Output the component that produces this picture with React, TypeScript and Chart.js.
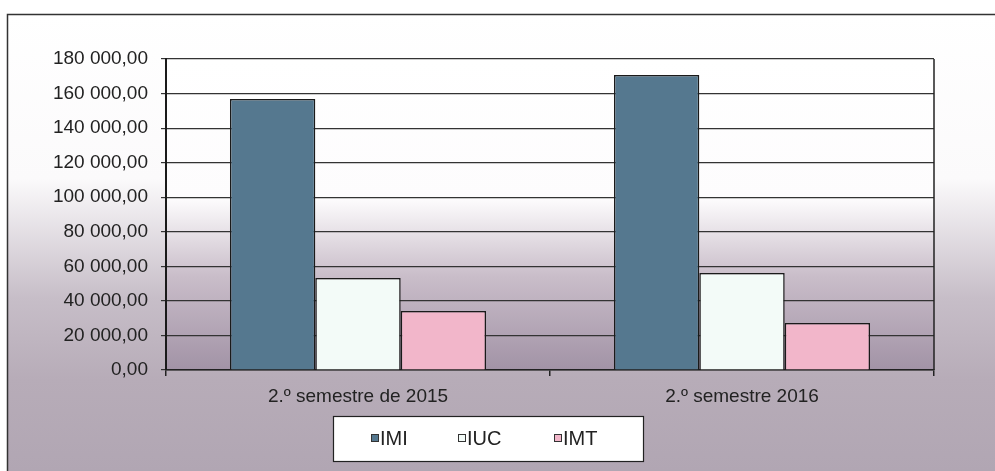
import React, { useEffect, useRef } from "react";
import { Chart, registerables } from "chart.js";

Chart.register(...registerables);

const categories = ["2.º semestre de 2015", "2.º semestre 2016"];
const seriesNames = ["IMI", "IUC", "IMT"];
const imiValues = [156800, 170800];
const iucValues = [53200, 56100];
const imtValues = [34100, 27200];
const seriesColors = ["#55788f", "#f3fbf8", "#f2b6ca"];
const yMax = 180000;
const yStep = 20000;

const FONT = "Arial, 'Liberation Sans', sans-serif";

function fmt(v: number): string {
  const s = Math.round(v).toString().replace(/\B(?=(\d{3})+(?!\d))/g, " ");
  return s + ",00";
}

const bgPlugin = {
  id: "bgPlugin",
  beforeDraw(chart: any) {
    const { ctx, width, height, chartArea } = chart;
    ctx.save();
    ctx.fillStyle = "#ffffff";
    ctx.fillRect(0, 0, width, height);
    const g = ctx.createLinearGradient(0, 14, 0, height);
    g.addColorStop(0, "#ffffff");
    g.addColorStop(0.36, "#fbfafb");
    g.addColorStop(0.62, "#c7bec8");
    g.addColorStop(0.8, "#b7acb8");
    g.addColorStop(1, "#b1a6b3");
    ctx.fillStyle = g;
    ctx.fillRect(7, 14, width - 7, height - 14);
    ctx.strokeStyle = "#333333";
    ctx.lineWidth = 1.5;
    ctx.beginPath();
    ctx.moveTo(7.5, height);
    ctx.lineTo(7.5, 14.5);
    ctx.lineTo(width, 14.5);
    ctx.stroke();
    const { left, top, right, bottom } = chartArea;
    const pg = ctx.createLinearGradient(0, top, 0, bottom);
    pg.addColorStop(0, "#ffffff");
    pg.addColorStop(0.45, "#fdfcfd");
    pg.addColorStop(0.7, "#c9bdc9");
    pg.addColorStop(1, "#a293a6");
    ctx.fillStyle = pg;
    ctx.fillRect(left, top, right - left, bottom - top);
    ctx.restore();
  },
  afterDraw(chart: any) {
    const { ctx, chartArea } = chart;
    const { top, right, bottom } = chartArea;
    ctx.save();
    ctx.strokeStyle = "#222222";
    ctx.lineWidth = 1.5;
    ctx.beginPath();
    ctx.moveTo(right, top);
    ctx.lineTo(right, bottom);
    ctx.stroke();
    const lx = 333, ly = 416, lw = 310, lh = 45;
    ctx.fillStyle = "#ffffff";
    ctx.fillRect(lx, ly, lw, lh);
    ctx.strokeStyle = "#222222";
    ctx.lineWidth = 1.2;
    ctx.strokeRect(lx + 0.5, ly + 0.5, lw, lh);
    const itemX = [371, 458, 554];
    const cy = 438;
    ctx.font = "20px " + FONT;
    ctx.textBaseline = "middle";
    ctx.textAlign = "left";
    chart.data.datasets.forEach((ds: any, i: number) => {
      const x = itemX[i];
      ctx.fillStyle = ds.backgroundColor;
      ctx.fillRect(x, cy - 4, 8, 8);
      ctx.strokeStyle = "#333333";
      ctx.lineWidth = 1;
      ctx.strokeRect(x + 0.5, cy - 3.5, 7, 7);
      ctx.fillStyle = "#222222";
      ctx.fillText(ds.label, x + 9, cy + 1);
    });
    ctx.restore();
  },
};

export default function App() {
  const ref = useRef<HTMLCanvasElement | null>(null);
  useEffect(() => {
    if (!ref.current) return;
    const seriesValues = [imiValues, iucValues, imtValues];
    const chart = new Chart(ref.current, {
      type: "bar",
      data: {
        labels: categories,
        datasets: seriesNames.map((name, i) => ({
          label: name,
          data: seriesValues[i],
          backgroundColor: seriesColors[i],
          borderColor: "#1a1a1a",
          borderWidth: 1.5,
          categoryPercentage: 0.667,
          barPercentage: 1.0,
        })),
      },
      options: {
        animation: false,
        responsive: false,
        maintainAspectRatio: false,
        layout: { padding: { left: 0, top: 59, right: 61, bottom: 0 } },
        plugins: {
          legend: { display: false },
          tooltip: { enabled: false },
        },
        scales: {
          x: {
            afterFit: (s: any) => {
              s.height = 101;
            },
            grid: {
              display: true,
              drawOnChartArea: false,
              drawTicks: true,
              tickLength: 6,
              color: "#222222",
              lineWidth: 1.5,
            },
            border: { display: true, color: "#222222", width: 1.5 },
            ticks: {
              color: "#222222",
              font: { family: FONT, size: 19 },
              padding: 9,
            },
          },
          y: {
            min: 0,
            max: yMax,
            afterFit: (s: any) => {
              s.width = 166;
            },
            grid: {
              color: "#333333",
              lineWidth: 1.2,
              drawTicks: true,
              tickLength: 5,
            },
            border: { display: true, color: "#1a1a1a", width: 2 },
            ticks: {
              stepSize: yStep,
              color: "#222222",
              font: { family: FONT, size: 19 },
              padding: 13,
              callback: (v: any) => fmt(Number(v)),
            },
          },
        },
      },
      plugins: [bgPlugin],
    });
    return () => chart.destroy();
  }, []);
  return (
    <div style={{ position: "fixed", left: 0, top: 0, width: 995, height: 471 }}>
      <canvas ref={ref} width={995} height={471} style={{ display: "block" }} />
    </div>
  );
}
